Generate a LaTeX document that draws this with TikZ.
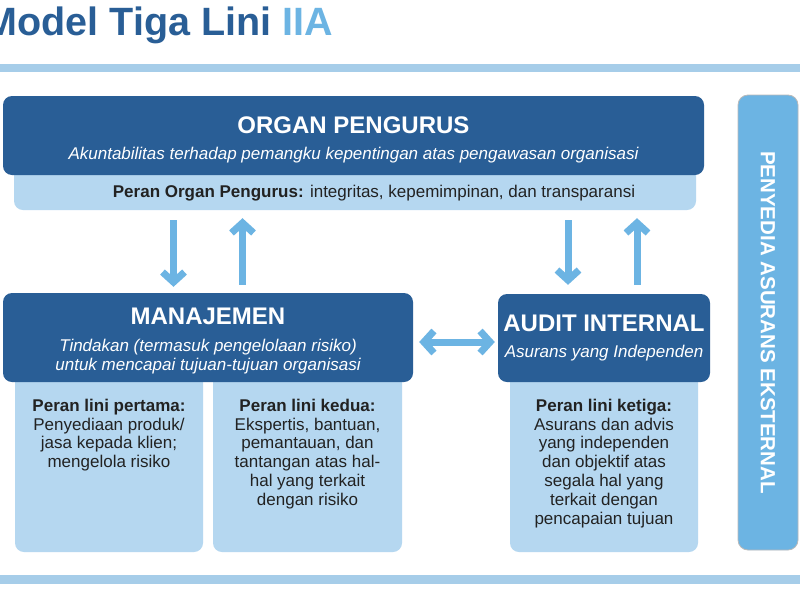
\documentclass[tikz,border=0pt]{standalone}
\usepackage{fontspec}
\setmainfont{Liberation Sans}
\usetikzlibrary{positioning, arrows.meta}

\definecolor{darkblue}{HTML}{295E96}
\definecolor{paleblue}{HTML}{B5D7F0}
\definecolor{skyblue}{HTML}{6CB4E3}
\definecolor{rulecol}{HTML}{A6CDE9}
\definecolor{ink}{HTML}{222222}
\newcommand{\boxtitlefont}{\fontsize{24}{26}\selectfont\bfseries}

\begin{document}
\begin{tikzpicture}[
  x=1pt, y=-1pt,
  >={Straight Barb[length=10pt,width=22pt]},
  head/.style={rectangle, fill=darkblue, rounded corners=9pt, text=white,
               align=center, inner sep=0pt,
               font=\fontsize{17}{19}\selectfont\itshape},
  role/.style={rectangle, fill=paleblue, rounded corners=9pt, inner sep=0pt},
  roletext/.style={align=center, inner sep=0pt, text=ink,
                   font=\fontsize{17}{18.8}\selectfont},
  ext/.style={rectangle, fill=skyblue, draw=gray!55, line width=0.8pt,
              rounded corners=10pt, text=white, inner sep=0pt,
              font=\fontsize{20.5}{22}\selectfont\bfseries},
  arr/.style={draw=skyblue, line width=7pt}
]
  \fill[white] (0,0) rectangle (800,600);
  \useasboundingbox (0,0) rectangle (800,600);

  % title and rules
  \node[anchor=base east, inner sep=0pt, text=darkblue,
        font=\fontsize{39.5}{44}\selectfont\bfseries] (title) at (333,35)
        {Model Tiga Lini \textcolor{skyblue}{IIA}};
  \fill[rulecol] (0,64) rectangle (800,72);
  \fill[rulecol] (0,575) rectangle (800,584);

  % light role boxes (behind the dark ones)
  \node[role, minimum width=682, minimum height=50] (govband) at (355,185) {};
  \node[role, minimum width=188, minimum height=192] (role1) at (109,456) {};
  \node[role, minimum width=189, minimum height=192] (role2) at (307.5,456) {};
  \node[role, minimum width=188, minimum height=192] (role3) at (604,456) {};

  % dark boxes
  \node[head, minimum width=701, minimum height=79] (organ) at (353.5,135.5)
    {{\upshape\boxtitlefont\rule{0pt}{25pt}ORGAN PENGURUS}\\[7pt]
     Akuntabilitas terhadap pemangku kepentingan atas pengawasan organisasi};
  \node[head, minimum width=410, minimum height=89] (mgmt) at (208,337.5)
    {{\upshape\boxtitlefont\rule{0pt}{23pt}MANAJEMEN}\\[8pt]
     Tindakan (termasuk pengelolaan risiko)\\
     untuk mencapai tujuan-tujuan organisasi};
  \node[head, minimum width=212, minimum height=88] (audit) at (604,338)
    {{\upshape\boxtitlefont AUDIT INTERNAL}\\[7pt]
     Asurans yang Independen};

  \node[ext, rotate=-90, minimum width=455, minimum height=60] (extasr)
    at (768,322.5) {PENYEDIA ASURANS EKSTERNAL};

  % role texts
  \node[roletext] (govrole) at (374,193)
    {\textbf{Peran Organ Pengurus:} integritas, kepemimpinan, dan transparansi};
  \node[roletext, below=39pt of role1.north] (role1txt)
    {\textbf{Peran lini pertama:}\\ Penyediaan produk/\\ jasa kepada klien;\\
     mengelola risiko};
  \node[roletext, below=39pt of role2.north] (role2txt)
    {\textbf{Peran lini kedua:}\\ Ekspertis, bantuan,\\ pemantauan, dan\\
     tantangan atas hal-\\ hal yang terkait\\ dengan risiko};
  \node[roletext, below=39pt of role3.north] (role3txt)
    {\textbf{Peran lini ketiga:}\\ Asurans dan advis\\ yang independen\\
     dan objektif atas\\ segala hal yang\\ terkait dengan\\ pencapaian tujuan};

  % arrows
  \coordinate (downL) at (173.5,0);
  \coordinate (upL) at (242.5,0);
  \coordinate (downR) at (568,0);
  \coordinate (upR) at (637,0);
  \coordinate (both) at (0,342);
  \draw[arr, ->, shorten <=10pt, shorten >=6pt] (govband.south -| downL) -- (mgmt.north -| downL);
  \draw[arr, ->, shorten <=8pt, shorten >=8pt] (mgmt.north -| upL) -- (govband.south -| upL);
  \draw[arr, ->, shorten <=10pt, shorten >=9pt] (govband.south -| downR) -- (audit.north -| downR);
  \draw[arr, ->, shorten <=9pt, shorten >=8pt] (audit.north -| upR) -- (govband.south -| upR);
  \draw[arr, <->, shorten <=6pt, shorten >=3pt] (mgmt.east |- both) -- (audit.west |- both);
\end{tikzpicture}
\end{document}
